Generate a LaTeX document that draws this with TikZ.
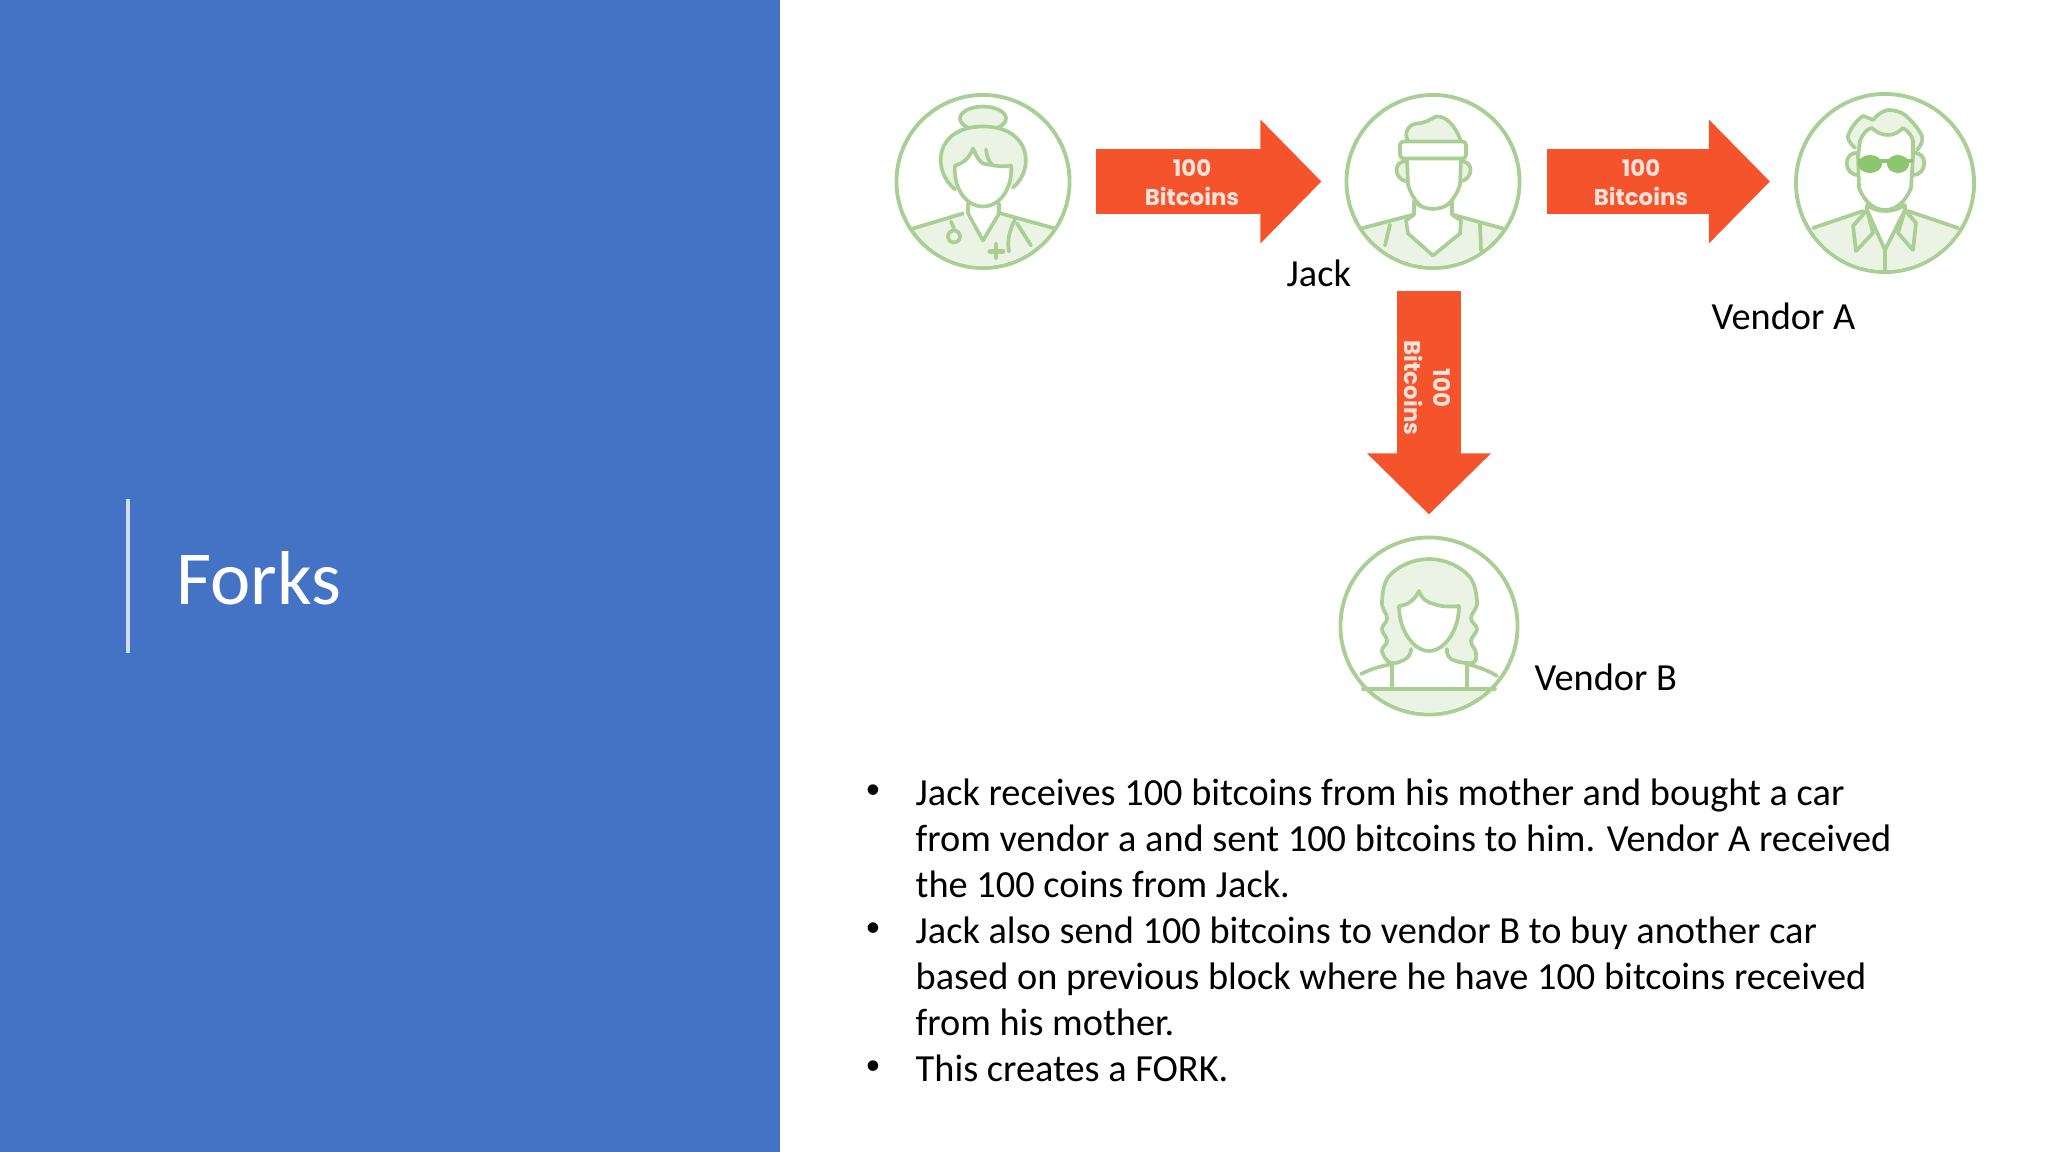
\documentclass[tikz,border=0pt]{standalone}
\usepackage{fontspec}
\setmainfont{Carlito}
\newfontfamily\badgefont{Poppins}
\usetikzlibrary{arrows.meta}
\definecolor{panelblue}{HTML}{4472C4}
\definecolor{ruleblue}{HTML}{CFDDF2}
\definecolor{avatarline}{HTML}{A9CF94}
\definecolor{avatarfill}{HTML}{EAF3E4}
\definecolor{glassgreen}{HTML}{8CC66E}
\definecolor{arroworange}{HTML}{F4532C}
\definecolor{badgetext}{HTML}{FBE3DB}
\tikzset{
    avatar/.style = {circle, draw = avatarline, line width = 1.1pt, inner sep = 0pt},
    face/.style = {draw = avatarline, line width = 1.05pt, line join = round, line cap = round},
    hair/.style = {face, fill = avatarfill},
    skin/.style = {face, fill = white},
    blockarrow/.style = {draw = arroworange, line width = 0.64cm,
        -{Triangle[length = 0.61cm, width = 1.2cm]}},
    badge/.style = {text = badgetext, font = \badgefont\bfseries\fontsize{6.5}{7}\selectfont, inner sep = 0pt},
    bodytext/.style = {anchor = base west, inner sep = 0pt, font = \fontsize{10.9}{13}\selectfont},
    bullet/.style = {inner sep = 0pt, font = \fontsize{8.5}{10}\selectfont}
}
\begin{document}
\begin{tikzpicture}[x = 0.01cm, y = -0.01cm]
    \useasboundingbox (0, 0) rectangle (2048, 1152);
    \fill[panelblue] (0, 0) rectangle (779.5, 1152);
    \draw[ruleblue, line width = 1.05pt] (128, 499) -- (128, 653);
    \node[anchor = base west, inner sep = 0pt, text = white, font = \fontsize{21.7}{26}\selectfont] (title) at (176, 604) {Forks};

    % people
    \node[avatar, minimum size = 1.73cm] (mother) at (983, 181.5) {};
    \node[avatar, minimum size = 1.73cm] (jack) at (1433, 181.5) {};
    \node[avatar, minimum size = 1.78cm] (vendora) at (1885, 183) {};
    \node[avatar, minimum size = 1.77cm] (vendorb) at (1429, 626) {};

    % mother
    \begin{scope}[shift = {(mother)}]
        \begin{scope}
            \clip (0, 0) circle [radius = 84];
            \fill[avatarfill] (-70, 47) -- (-20, 32) -- (0, 59) -- (18, 32) -- (72, 47) -- (90, 100) -- (-90, 100) -- cycle;
        \end{scope}
        \draw[hair] (0, -63) ellipse (23 and 12);
        \draw[hair] (-28, 8) .. controls (-52, -12) and (-48, -55) .. (0, -55) .. controls (48, -55) and (52, -12) .. (30, 6);
        \draw[skin] (-28, -16) .. controls (-20, -18) and (-13, -24) .. (-10, -33) .. controls (-7, -26) and (-4, -20) .. (0, -18) .. controls (10, -16) and (20, -14) .. (28, -16) .. controls (30, 5) and (18, 25) .. (0, 25) .. controls (-18, 25) and (-30, 5) .. (-28, -16) -- cycle;
        \draw[face] (3, -32) .. controls (4, -24) and (6, -19) .. (10, -16);
        \draw[face] (-15, 22) -- (-15, 32) -- (0, 59) -- (16, 32) -- (16, 22);
        \draw[face] (-70, 47) -- (-20, 32);
        \draw[face] (18, 32) -- (72, 47);
        \draw[face] (-32, 40) -- (-29, 47);
        \draw[face] (-29, 55) circle (6);
        \draw[face] (32, 38) .. controls (26, 50) and (24, 60) .. (26, 70);
        \draw[face] (34, 42) -- (48, 64);
        \draw[face, line width = 1.4pt] (7, 70) -- (20, 70);
        \draw[face, line width = 1.4pt] (13, 63) -- (13, 76);
    \end{scope}

    % jack
    \begin{scope}[shift = {(jack)}]
        \begin{scope}
            \clip (0, 0) circle [radius = 84];
            \fill[avatarfill] (-72, 47) -- (-19, 33) -- (19, 33) -- (70, 47) -- (90, 100) -- (-90, 100) -- cycle;
        \end{scope}
        \draw[hair] (-25, -40) .. controls (-29, -48) and (-26, -56) .. (-17, -58) .. controls (-8, -58) and (-3, -62) .. (3, -65) .. controls (15, -66) and (24, -52) .. (28, -40);
        \draw[hair] (-26, -20) .. controls (-40, -22) and (-40, -2) .. (-26, 0);
        \draw[hair] (27, -20) .. controls (41, -22) and (41, -2) .. (27, 0);
        \draw[skin] (-26, -23) -- (-25, 3) .. controls (-20, 20) and (-10, 29) .. (0, 29) .. controls (10, 29) and (22, 20) .. (27, 3) -- (28, -23);
        \draw[skin, rounded corners = 1pt] (-33, -40) -- (33, -40) -- (33, -23) -- (-33, -23) -- cycle;
        \draw[skin] (-27, 39) -- (-19, 33) -- (-19, 20) .. controls (-8, 30) and (8, 30) .. (19, 20) -- (19, 33) -- (28, 39) -- (27, 52) -- (0, 74) -- (-25, 52) -- cycle;
        \draw[face] (-72, 47) -- (-19, 33);
        \draw[face] (19, 33) -- (70, 47);
        \draw[face] (-43, 43) -- (-48, 64);
        \draw[face] (47, 43) -- (48, 69);
    \end{scope}

    % vendor a
    \begin{scope}[shift = {(vendora)}]
        \begin{scope}
            \clip (0, 0) circle [radius = 87];
            \fill[avatarfill] (-72, 45) -- (-22, 28) -- (0, 67) -- (23, 28) -- (73, 45) -- (90, 100) -- (-90, 100) -- cycle;
        \end{scope}
        \draw[hair] (-30, -35) .. controls (-36, -40) and (-38, -46) .. (-37, -47) .. controls (-34, -56) and (-28, -63) .. (-22, -67) .. controls (-18, -66) and (-15, -64) .. (-12, -63) .. controls (-8, -68) and (-3, -72) .. (3, -73) .. controls (10, -73) and (16, -71) .. (20, -68) .. controls (27, -62) and (33, -55) .. (37, -47) .. controls (38, -42) and (36, -37) .. (32, -33);
        \draw[hair] (-27, -30) .. controls (-42, -32) and (-42, -8) .. (-27, -8);
        \draw[hair] (28, -30) .. controls (43, -32) and (43, -8) .. (28, -8);
        \draw[skin] (-27, -27) -- (-25, -42) .. controls (-22, -50) and (-18, -54) .. (-13, -55) .. controls (-8, -50) and (-2, -48) .. (3, -48) .. controls (9, -48) and (14, -51) .. (18, -55) .. controls (23, -52) and (27, -47) .. (28, -42) -- (28, -27) -- (26, 5) .. controls (20, 20) and (10, 27) .. (0, 27) .. controls (-10, 27) and (-20, 20) .. (-26, 5) -- cycle;
        \fill[glassgreen] (-15, -19) ellipse (12 and 9);
        \fill[glassgreen] (13, -19) ellipse (11 and 9);
        \draw[glassgreen, line width = 1.4pt] (-27, -22) -- (28, -22);
        \draw[hair] (-18, 27) -- (-32, 43) -- (-29, 68) -- (-12, 50) -- (-18, 27);
        \draw[hair] (20, 27) -- (31, 40) -- (28, 67) -- (13, 50) -- (20, 27);
        \draw[skin] (-18, 22) -- (-18, 27) -- (0, 67) -- (20, 27) -- (20, 22) .. controls (8, 30) and (-8, 30) .. (-18, 22) -- cycle;
        \draw[face] (-72, 45) -- (-22, 28);
        \draw[face] (23, 28) -- (73, 45);
        \draw[face] (0, 67) -- (0, 88);
    \end{scope}

    % vendor b
    \begin{scope}[shift = {(vendorb)}]
        \begin{scope}
            \clip (0, 0) circle [radius = 86];
            \fill[avatarfill] (-90, 63) rectangle (90, 100);
        \end{scope}
        \draw[hair] plot[smooth, tension = 0.7] coordinates {(-18, 23) (-22, 32) (-38, 37) (-47, 25) (-42, 15) (-47, 3) (-42, -8) (-47, -25) (-37, -53) (0, -67) (37, -53) (48, -25) (42, -8) (48, 3) (42, 15) (47, 27) (43, 37) (22, 33) (18, 23)};
        \draw[skin] (-30, -20) .. controls (-20, -21) and (-14, -27) .. (-10, -35) .. controls (-7, -27) and (-3, -24) .. (5, -22) .. controls (13, -19) and (22, -19) .. (30, -20) .. controls (30, 5) and (15, 25) .. (0, 25) .. controls (-15, 25) and (-30, 5) .. (-30, -20) -- cycle;
        \draw[face] (-37, 37) -- (-37, 63);
        \draw[face] (38, 37) -- (38, 63);
        \draw[face] (-66, 63) -- (66, 63);
        \draw[face] (-68, 48) .. controls (-58, 43) and (-48, 40) .. (-37, 38);
        \draw[face] (38, 38) .. controls (50, 41) and (60, 45) .. (68, 50);
    \end{scope}

    % transfers
    \draw[blockarrow, shorten < = 0.24cm, shorten > = 0.23cm] (mother.east) -- (jack.west);
    \draw[blockarrow, shorten < = 0.25cm, shorten > = 0.24cm] (jack.east) -- (jack.east -| vendora.west);
    \draw[blockarrow, shorten < = 0.215cm, shorten > = 0.21cm] (jack.south -| vendorb.north) -- (vendorb.north);

    \node[badge] (hundredone) at (1192, 168) {100};
    \node[badge] (coinsone) at (1192, 196) {Bitcoins};
    \node[badge] (hundredtwo) at (1641, 168) {100};
    \node[badge] (coinstwo) at (1641, 196) {Bitcoins};
    \node[badge, rotate = -90] (hundredthree) at (1442, 388) {100};
    \node[badge, rotate = -90] (coinsthree) at (1414, 388) {Bitcoins};

    % names
    \node[bodytext] (jackname) at (1286, 287) {Jack};
    \node[bodytext] (vendoraname) at (1711, 330) {Vendor A};
    \node[bodytext] (vendorbname) at (1534, 690) {Vendor B};

    % list
    \node[bullet] (bulletone) at (873, 792) {•};
    \node[bullet] (bullettwo) at (873, 930) {•};
    \node[bullet] (bulletthree) at (873, 1068) {•};
    \node[bodytext] (lineone) at (915, 805) {Jack receives 100 bitcoins from his mother and bought a car};
    \node[bodytext] (linetwo) at (915, 851) {from vendor a and sent 100 bitcoins to him. Vendor A received};
    \node[bodytext] (linethree) at (915, 897) {the 100 coins from Jack.};
    \node[bodytext] (linefour) at (915, 943) {Jack also send 100 bitcoins to vendor B to buy another car};
    \node[bodytext] (linefive) at (915, 989) {based on previous block where he have 100 bitcoins received};
    \node[bodytext] (linesix) at (915, 1035) {from his mother.};
    \node[bodytext] (lineseven) at (915, 1081) {This creates a FORK.};
\end{tikzpicture}
\end{document}
